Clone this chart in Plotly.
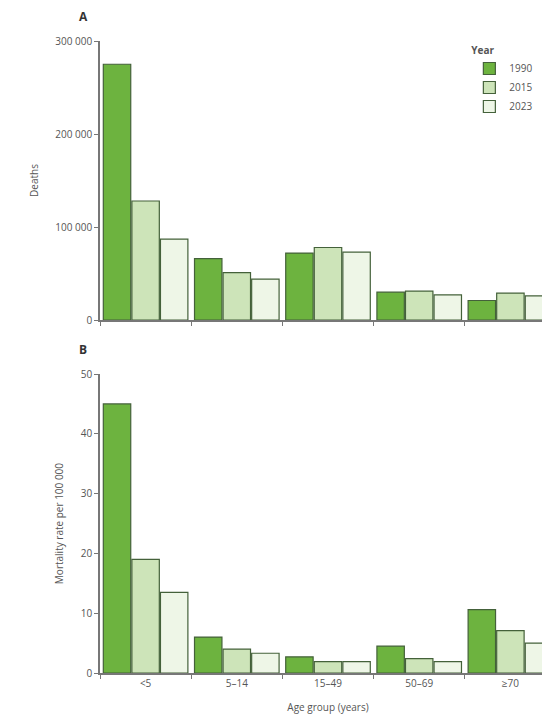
import plotly.graph_objects as go

groups = ["<5", "5–14", "15–49", "50–69", "≥70"]
years = ["1990", "2015", "2023"]
deaths = {
    "1990": [275000, 66000, 72000, 30000, 21000],
    "2015": [128000, 51000, 78000, 31000, 29000],
    "2023": [87000, 44000, 73000, 27000, 26000],
}
rates = {
    "1990": [45, 6, 2.7, 4.5, 10.6],
    "2015": [19, 4, 1.9, 2.4, 7.1],
    "2023": [13.5, 3.3, 1.9, 1.9, 5],
}
deaths_ticks = [0, 100000, 200000, 300000]
deaths_ticktext = ["0", "100 000", "200 000", "300 000"]
rate_ticks = [0, 10, 20, 30, 40, 50]

colors = {"1990": "#6db33f", "2015": "#cde4b9", "2023": "#eef6e7"}
line_col = "#44613a"
font_col = "#555555"

fig = go.Figure()
for y in years:
    fig.add_trace(go.Bar(x=groups, y=deaths[y], name=y, marker=dict(color=colors[y], line=dict(color=line_col, width=1.2)),
                         xaxis="x", yaxis="y", legendgroup=y))
    fig.add_trace(go.Bar(x=groups, y=rates[y], name=y, marker=dict(color=colors[y], line=dict(color=line_col, width=1.2)),
                         xaxis="x2", yaxis="y2", legendgroup=y, showlegend=False))

axis_common = dict(showline=True, linecolor="#777777", linewidth=1.5, ticks="outside", ticklen=4,
                   tickcolor="#777777", showgrid=False, zeroline=False, tickfont=dict(size=10, color=font_col))
fig.update_layout(
    width=550, height=721, plot_bgcolor="white", paper_bgcolor="white",
    margin=dict(l=92, r=2, t=33, b=56),
    font=dict(family="Open Sans", size=10, color=font_col),
    barmode="group", bargap=0.06, bargroupgap=0.04,
    xaxis=dict(anchor="y", domain=[0, 1], tickson="boundaries", showticklabels=False, **axis_common),
    xaxis2=dict(anchor="y2", domain=[0, 1], tickson="boundaries",
                title=dict(text="Age group (years)", font=dict(size=10, color=font_col)), **axis_common),
    yaxis=dict(domain=[0.5585, 1], range=[0, 300000], tickvals=deaths_ticks, ticktext=deaths_ticktext,
               title=dict(text="Deaths", font=dict(size=10, color=font_col)), **axis_common),
    yaxis2=dict(domain=[0, 0.473], range=[0, 50], tickvals=rate_ticks,
                title=dict(text="Mortality rate per 100 000", font=dict(size=10, color=font_col)), **axis_common),
    legend=dict(x=0.81, y=1.0, xanchor="left", yanchor="top", itemwidth=30,
                title=dict(text="<b>Year</b>", font=dict(size=10, color=font_col)),
                font=dict(size=10, color=font_col), bgcolor="rgba(0,0,0,0)", tracegroupgap=0),
    annotations=[
        dict(text="<b>A</b>", x=-0.05, y=1.0, xref="paper", yref="paper", xanchor="left", yanchor="bottom",
             yshift=14, showarrow=False, font=dict(size=12, color="#333333")),
        dict(text="<b>B</b>", xref="paper", yref="paper", x=-0.05, y=0.473, xanchor="left", yanchor="bottom",
             yshift=14, showarrow=False, font=dict(size=12, color="#333333")),
    ],
)
fig.write_html("out.html")
